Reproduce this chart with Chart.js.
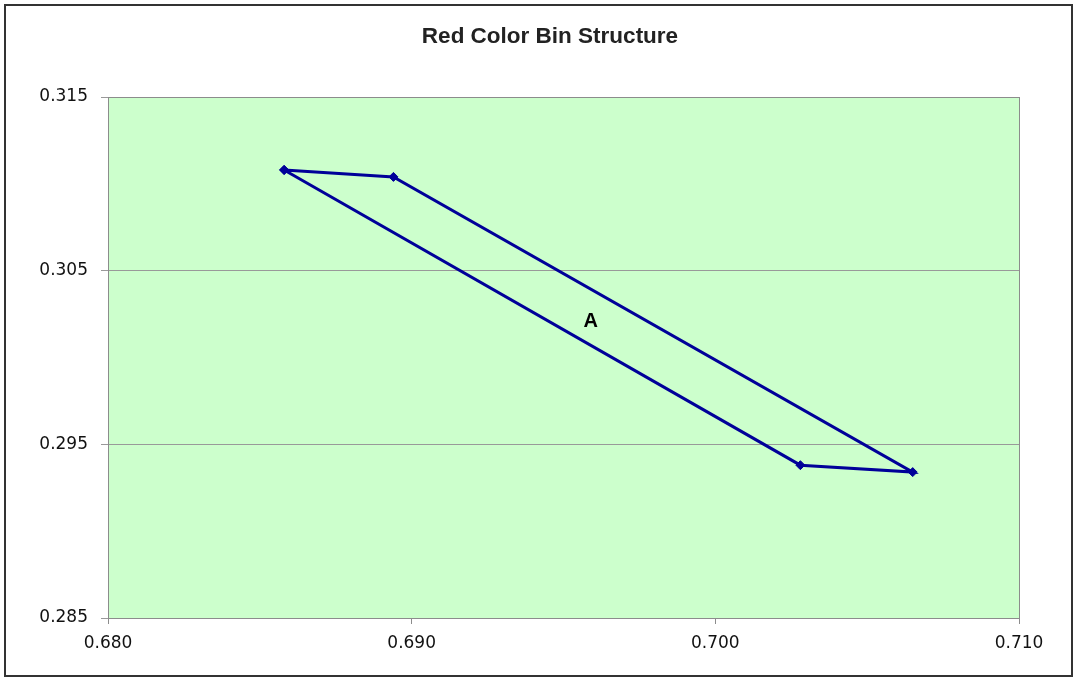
<!DOCTYPE html>
<html>
<head>
<meta charset="utf-8">
<script src="https://cdn.jsdelivr.net/npm/chart.js@4/dist/chart.umd.min.js"></script>
<style>
html,body{margin:0;padding:0;background:#fff;}
#wrap{width:1077px;height:681px;position:relative;}
</style>
</head>
<body>
<div id="wrap"><canvas id="c" width="1077" height="681"></canvas></div>
<script>
const chartTitle = "Red Color Bin Structure";
const xValues = [0.6858, 0.6894, 0.7065, 0.7028, 0.6858];
const yValues = [0.3108, 0.3104, 0.2934, 0.2938, 0.3108];
const xTicks = [0.680, 0.690, 0.700, 0.710];
const yTicks = [0.285, 0.295, 0.305, 0.315];
const labelTexts = ["A"];
const labelX = [0.6959];
const labelY = [0.3021];

const points = xValues.map((x, i) => ({x: x, y: yValues[i]}));

const decorPlugin = {
  id: 'decor',
  beforeDraw(chart) {
    const {ctx, chartArea: a} = chart;
    ctx.save();
    ctx.fillStyle = '#ffffff';
    ctx.fillRect(0, 0, chart.width, chart.height);
    ctx.fillStyle = '#CCFFCC';
    ctx.fillRect(a.left, a.top, a.right - a.left, a.bottom - a.top);
    ctx.restore();
  },
  afterDraw(chart) {
    const {ctx, chartArea: a, scales} = chart;
    ctx.save();
    ctx.strokeStyle = '#8c8c8c';
    ctx.lineWidth = 1;
    ctx.strokeRect(Math.round(a.left) + 0.5, Math.round(a.top) + 0.5, Math.round(a.right - a.left), Math.round(a.bottom - a.top));
    ctx.strokeStyle = '#333333';
    ctx.lineWidth = 2;
    ctx.strokeRect(5, 5, 1067, 671);
    ctx.fillStyle = '#222222';
    ctx.font = 'bold 22.5px "Liberation Sans", Arial, sans-serif';
    ctx.textAlign = 'center';
    ctx.textBaseline = 'middle';
    ctx.fillText(chartTitle, 550, 37);
    ctx.font = 'bold 20px "Liberation Sans", Arial, sans-serif';
    ctx.fillStyle = '#000000';
    labelTexts.forEach((t, i) => {
      ctx.fillText(t, scales.x.getPixelForValue(labelX[i]), scales.y.getPixelForValue(labelY[i]));
    });
    ctx.restore();
  }
};

new Chart(document.getElementById('c'), {
  type: 'scatter',
  data: {
    datasets: [{
      data: points,
      showLine: true,
      borderColor: '#000099',
      backgroundColor: '#000099',
      borderWidth: 3,
      pointStyle: 'rectRot',
      pointRadius: 4.5,
      pointBorderWidth: 1,
      tension: 0
    }]
  },
  options: {
    responsive: false,
    animation: false,
    events: [],
    layout: { padding: { top: 97, right: 58, left: 0, bottom: 0 } },
    plugins: { legend: { display: false }, title: { display: false }, tooltip: { enabled: false } },
    scales: {
      x: {
        type: 'linear',
        min: 0.680, max: 0.710,
        afterBuildTicks(s) { s.ticks = xTicks.map(v => ({value: v})); },
        afterFit(s) { s.height = 63; },
        border: { display: true, color: '#8c8c8c', width: 1 },
        grid: { drawOnChartArea: false, drawTicks: true, tickLength: 6, color: '#8c8c8c' },
        ticks: {
          color: '#111111',
          padding: 9,
          font: { family: '"DejaVu Sans", Verdana, sans-serif', size: 17 },
          callback: v => Number(v).toFixed(3)
        }
      },
      y: {
        type: 'linear',
        min: 0.285, max: 0.315,
        afterBuildTicks(s) { s.ticks = yTicks.map(v => ({value: v})); },
        afterFit(s) { s.width = 108; },
        border: { display: true, color: '#8c8c8c', width: 1 },
        grid: { drawOnChartArea: true, drawTicks: true, tickLength: 7, color: '#999999' },
        ticks: {
          color: '#111111',
          padding: 13,
          font: { family: '"DejaVu Sans", Verdana, sans-serif', size: 17 },
          callback: v => Number(v).toFixed(3)
        }
      }
    }
  },
  plugins: [decorPlugin]
});
</script>
</body>
</html>
